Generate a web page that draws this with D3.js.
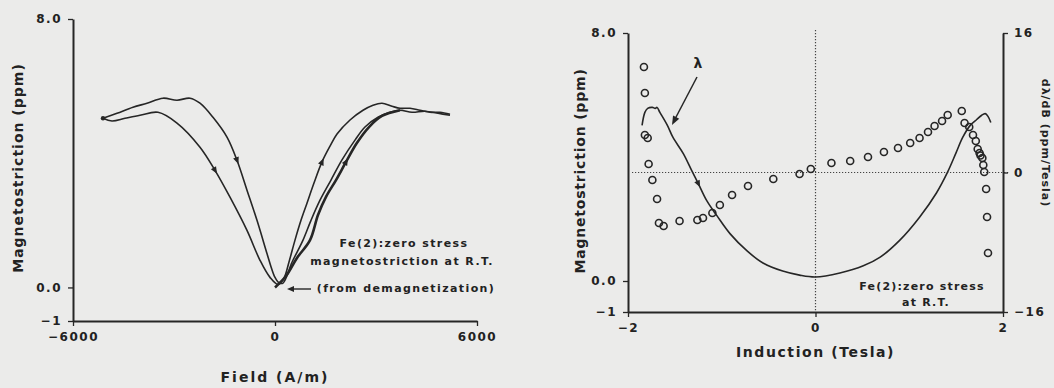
<!DOCTYPE html>
<html><head><meta charset="utf-8">
<script src="https://cdn.jsdelivr.net/npm/d3@7"></script>
<style>
html,body{margin:0;padding:0;background:#ebebea;}
svg{display:block;}
text{font-family:"DejaVu Sans",sans-serif;font-weight:bold;fill:#222;}
</style></head><body>
<svg id="c" width="1054" height="388"></svg>
<script>
// ---------- Left panel: magnetostriction vs field (butterfly loop) ----------
const loopA_H = [-5109,-4693,-4218,-3802,-3327,-2911,-2525,-2228,-1842,-1426,-1129,-832,-535,-238,-119,0,119,238,505,832,1069,1337,1663,1990,2376,2673,3059,3416,3713,4069,4456,4842,5198];
const loopA_L = [5.04,5.19,5.37,5.49,5.64,5.58,5.64,5.49,5.07,4.48,3.79,2.90,2.00,1.01,0.62,0.30,0.14,0.13,0.75,1.41,2.00,2.60,3.20,3.80,4.39,4.78,5.07,5.22,5.28,5.22,5.25,5.19,5.13];
const loopB_H = [-5109,-4842,-4456,-4010,-3475,-2911,-2228,-1782,-1337,-832,-446,-149,89,267,416,594,772,950,1158,1396,1634,1842,2228,2614,2911,3178,3475,3713,4010,4307,4604,4901,5198];
const loopB_L = [5.04,4.96,5.04,5.13,5.22,4.90,4.18,3.49,2.69,1.70,0.81,0.30,0.09,0.28,0.76,1.41,2.00,2.51,3.11,3.74,4.21,4.57,4.99,5.28,5.43,5.49,5.40,5.34,5.34,5.28,5.22,5.22,5.16];
const init_H = [0,327,653,1040,1277,1515,1812,2109,2436,2792,3178,3713];
const init_L = [0.0,0.34,0.88,1.41,2.16,2.70,3.20,3.74,4.31,4.78,5.11,5.28];
const leftXTicks = [-6000,0,6000];
const leftYTicks = [8,0,-1];

// ---------- Right panel: magnetostriction and d(lambda)/dB vs induction ----------
const lamB = [-1.85,-1.82,-1.79,-1.74,-1.71,-1.69,-1.66,-1.58,-1.52,-1.41,-1.32,-1.25,-1.16,-1.05,-0.91,-0.73,-0.56,-0.35,-0.17,0,0.26,0.51,0.69,0.90,1.11,1.29,1.41,1.50,1.57,1.65,1.72,1.77,1.81,1.84,1.87];
const lamV = [5.02,5.44,5.57,5.60,5.57,5.60,5.44,5.02,4.63,4.11,3.56,3.14,2.59,2.10,1.52,0.97,0.58,0.32,0.19,0.13,0.26,0.49,0.77,1.32,2.06,2.84,3.52,4.14,4.63,5.02,5.21,5.34,5.40,5.31,5.11];
const derB = [-1.83,-1.82,-1.82,-1.79,-1.78,-1.74,-1.69,-1.67,-1.62,-1.45,-1.26,-1.20,-1.10,-1.02,-0.89,-0.72,-0.45,-0.17,-0.05,0.17,0.37,0.56,0.73,0.88,1.01,1.11,1.20,1.27,1.35,1.41,1.56,1.59,1.64,1.68,1.71,1.73,1.75,1.76,1.78,1.79,1.80,1.82,1.83,1.84];
const derV = [12.10,9.12,4.30,3.96,0.98,-0.86,-3.04,-5.79,-6.14,-5.56,-5.45,-5.22,-4.65,-3.73,-2.58,-1.55,-0.75,-0.17,0.40,1.09,1.32,1.78,2.35,2.81,3.38,3.96,4.65,5.33,5.91,6.60,7.05,5.68,5.22,4.30,3.61,2.70,2.24,1.95,1.66,0.86,0.06,-1.89,-5.10,-9.23];
const rightXTicks = [-2,0,2];
const rightYTicks = [8,0,-1];
const rightY2Ticks = [16,0,-16];

const svg = d3.select("#c");
const ink = "#262626";
const fmtMinus = s => String(s).replace("-", "\u2212");

// ================= LEFT =================
const xL = d3.scaleLinear([-6000,6000],[73,477]);
const yL = d3.scaleLinear([-1,8],[321,19]);
const gL = svg.append("g");

function styleAxis(g, fs){
  g.select(".domain").attr("stroke", ink).attr("stroke-width", 2);
  g.selectAll(".tick line").attr("stroke", ink).attr("stroke-width", 1.3);
  g.selectAll(".tick text").style("font-size", fs+"px").style("letter-spacing","1.5px").attr("fill","#222");
}

gL.append("g").attr("transform","translate(0,321)")
  .call(d3.axisBottom(xL).tickValues(leftXTicks).tickSize(5).tickSizeOuter(0).tickPadding(6).tickFormat(d=>fmtMinus(d)))
  .call(g=>styleAxis(g,12));
gL.append("g").attr("transform","translate(73,0)")
  .call(d3.axisLeft(yL).tickValues(leftYTicks).tickSize(5).tickSizeOuter(0).tickPadding(6).tickFormat(d=>d===-1?"\u22121":d3.format(".1f")(d)))
  .call(g=>styleAxis(g,12));

const lineL = d3.line().x(d=>xL(d[0])).y(d=>yL(d[1])).curve(d3.curveCatmullRom.alpha(0.5));
const zip = (a,b)=>a.map((v,i)=>[v,b[i]]);
const A = zip(loopA_H, loopA_L), B = zip(loopB_H, loopB_L), I = zip(init_H, init_L);
gL.append("path").attr("d", lineL(A)).attr("fill","none").attr("stroke",ink).attr("stroke-width",1.6);
gL.append("path").attr("d", lineL(B)).attr("fill","none").attr("stroke",ink).attr("stroke-width",1.6);
gL.append("path").attr("d", lineL(I)).attr("fill","none").attr("stroke",ink).attr("stroke-width",2.6);

// direction arrow markers on branches
function arrowAt(g, pts, i, sx, sy){
  const p0 = pts[i-1], p1 = pts[i+1];
  const ang = Math.atan2(sy(p1[1])-sy(p0[1]), sx(p1[0])-sx(p0[0]))*180/Math.PI;
  g.append("path").attr("d","M4,0L-3,-3L-3,3Z").attr("fill",ink)
   .attr("transform",`translate(${sx(pts[i][0])},${sy(pts[i][1])}) rotate(${ang})`);
}
arrowAt(gL, A, 10, xL, yL);
arrowAt(gL, B, 7, xL, yL);
arrowAt(gL, B, 19, xL, yL);
arrowAt(gL, I, 7, xL, yL);
gL.append("circle").attr("cx",xL(loopA_H[0])).attr("cy",yL(loopA_L[0])).attr("r",2.2).attr("fill",ink);

gL.append("text").attr("x",xL(0)).attr("y",382).attr("text-anchor","middle")
  .style("font-size","14px").style("letter-spacing","2px").text("Field (A/m)");
gL.append("text").attr("transform","translate(23,168) rotate(-90)").attr("text-anchor","middle")
  .style("font-size","14px").style("letter-spacing","1px").text("Magnetostriction (ppm)");
const annL = [["Fe(2):zero stress",404,247],["magnetostriction at R.T.",402,265],["(from demagnetization)",406,292]];
annL.forEach(a=>gL.append("text").attr("x",a[1]).attr("y",a[2]).attr("text-anchor","middle")
  .style("font-size","11px").style("letter-spacing","1.4px").text(a[0]));
gL.append("line").attr("x1",311).attr("y1",289).attr("x2",292).attr("y2",289).attr("stroke",ink).attr("stroke-width",1.4);
gL.append("path").attr("d","M287,289L294,286L294,292Z").attr("fill",ink);

// ================= RIGHT =================
const xR = d3.scaleLinear([-2,2],[628,1003]);
const yR = d3.scaleLinear([-1,8],[312,33]);
const yD = d3.scaleLinear([-16,16],[312,33]);
const gR = svg.append("g");

// dotted reference lines
gR.append("line").attr("x1",xR(0)).attr("x2",xR(0)).attr("y1",30).attr("y2",312)
  .attr("stroke","#444").attr("stroke-width",1.2).attr("stroke-dasharray","1.2,1.8");
gR.append("line").attr("x1",632).attr("x2",1009).attr("y1",yD(0)).attr("y2",yD(0))
  .attr("stroke","#444").attr("stroke-width",1.2).attr("stroke-dasharray","1.2,1.8");

gR.append("g").attr("transform","translate(0,312)")
  .call(d3.axisBottom(xR).tickValues(rightXTicks).tickSize(5).tickSizeOuter(0).tickPadding(6).tickFormat(d=>fmtMinus(d)))
  .call(g=>styleAxis(g,12));
gR.append("g").attr("transform","translate(628,0)")
  .call(d3.axisLeft(yR).tickValues(rightYTicks).tickSize(5).tickSizeOuter(0).tickPadding(6).tickFormat(d=>d===-1?"\u22121":d3.format(".1f")(d)))
  .call(g=>styleAxis(g,12));
gR.append("g").attr("transform","translate(1003,0)")
  .call(d3.axisRight(yD).tickValues(rightY2Ticks).tickSize(5).tickSizeOuter(0).tickPadding(6).tickFormat(d=>fmtMinus(d)))
  .call(g=>styleAxis(g,12));

const lineR = d3.line().x(d=>xR(d[0])).y(d=>yR(d[1])).curve(d3.curveCatmullRom.alpha(0.5));
const LAM = zip(lamB, lamV);
gR.append("path").attr("d", lineR(LAM)).attr("fill","none").attr("stroke",ink).attr("stroke-width",1.6);
arrowAt(gR, LAM, 11, xR, yR);

gR.selectAll("circle.d").data(zip(derB, derV)).join("circle")
  .attr("cx",d=>xR(d[0])).attr("cy",d=>yD(d[1])).attr("r",3.5)
  .attr("fill","none").attr("stroke",ink).attr("stroke-width",1.6);

// lambda pointer
gR.append("text").attr("x",698).attr("y",68).attr("text-anchor","middle")
  .style("font-size","14px").text("\u03bb");
gR.append("line").attr("x1",697).attr("y1",77).attr("x2",675).attr("y2",119).attr("stroke",ink).attr("stroke-width",1.5);
gR.append("path").attr("d","M0,0L-9,-3.5L-9,3.5Z").attr("fill",ink)
  .attr("transform",`translate(672,125) rotate(${Math.atan2(125-77,672-697)*180/Math.PI})`);

gR.append("text").attr("x",xR(0)).attr("y",357).attr("text-anchor","middle")
  .style("font-size","14px").style("letter-spacing","1.6px").text("Induction (Tesla)");
gR.append("text").attr("transform","translate(585,171) rotate(-90)").attr("text-anchor","middle")
  .style("font-size","14px").style("letter-spacing","0.8px").text("Magnetostriction (ppm)");
gR.append("text").attr("transform","translate(1042,143) rotate(90)").attr("text-anchor","middle")
  .style("font-size","11px").style("letter-spacing","1px").text("d\u03bb/dB (ppm/Tesla)");
gR.append("text").attr("x",922).attr("y",290).attr("text-anchor","middle")
  .style("font-size","11px").style("letter-spacing","1.2px").text("Fe(2):zero stress");
gR.append("text").attr("x",926).attr("y",306).attr("text-anchor","middle")
  .style("font-size","11px").style("letter-spacing","1.2px").text("at R.T.");
</script></body></html>
